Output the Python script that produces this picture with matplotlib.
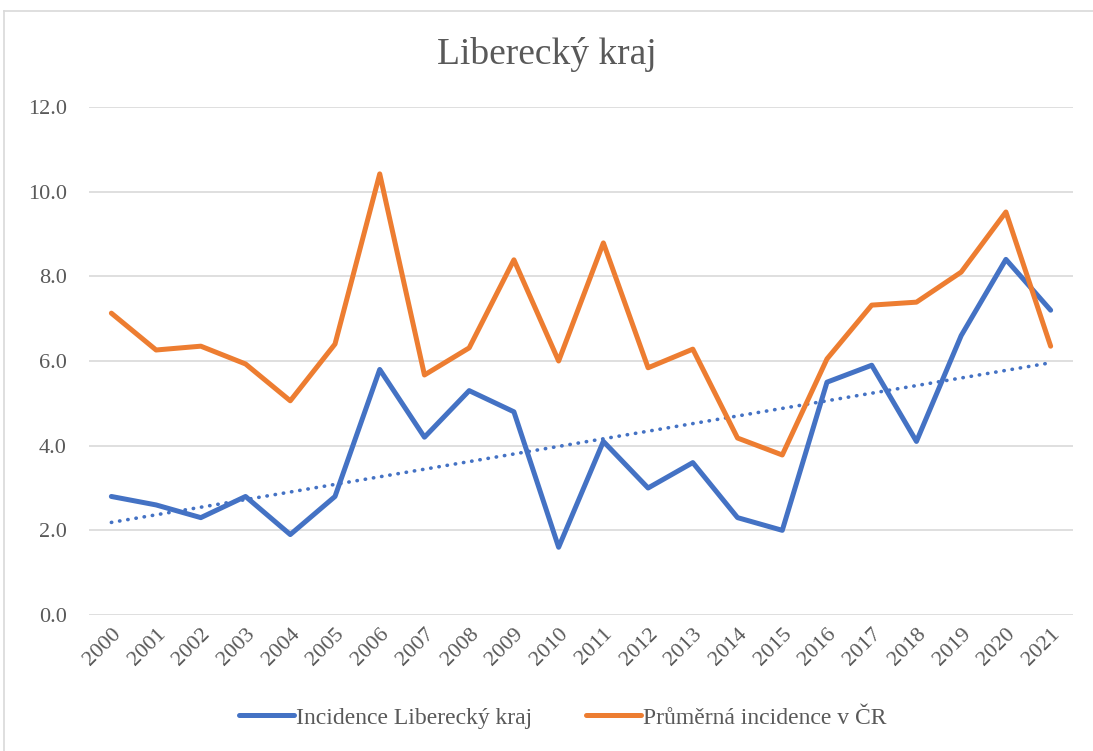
import numpy as np
import matplotlib
matplotlib.use("Agg")
import matplotlib.pyplot as plt
from matplotlib.lines import Line2D

years = [str(y) for y in range(2000, 2022)]
liberec = [2.8, 2.6, 2.3, 2.8, 1.9, 2.8, 5.8, 4.2, 5.3, 4.8, 1.6,
           4.1, 3.0, 3.6, 2.3, 2.0, 5.5, 5.9, 4.1, 6.6, 8.4, 7.2]
cr_avg = [7.13, 6.26, 6.35, 5.93, 5.06, 6.40, 10.42, 5.67, 6.31, 8.39, 6.00,
          8.79, 5.84, 6.28, 4.18, 3.78, 6.05, 7.32, 7.39, 8.10, 9.52, 6.35]
y_ticks = [0, 2, 4, 6, 8, 10, 12]

plt.rcParams['font.family'] = ['Liberation Serif', 'DejaVu Serif']
text_col = '#595959'

fig = plt.figure(figsize=(10.93, 7.51), dpi=100)
ax = fig.add_axes([89 / 1093, 1 - 615 / 751, 984 / 1093, 508 / 751])

x = np.arange(len(years))
ax.plot(x, liberec, color='#4472C4', lw=3.6, solid_joinstyle='round',
        solid_capstyle='round', label='Incidence Liberecký kraj', zorder=3)
ax.plot(x, cr_avg, color='#ED7D31', lw=3.6, solid_joinstyle='round',
        solid_capstyle='round', label='Průměrná incidence v ČR', zorder=3)

# linear trendline of the Liberec series
k, q = np.polyfit(x, liberec, 1)
ax.plot(x, k * x + q, color='#4472C4', lw=2.6, linestyle=(0, (0.1, 2.2)),
        dash_capstyle='round', zorder=2)

ax.set_xlim(-0.5, len(years) - 0.5)
ax.set_ylim(0, 12)
ax.set_yticks(y_ticks)
ax.set_yticklabels([f'{v:.1f}' for v in y_ticks])
ax.set_xticks(x)
ax.set_xticklabels(years, rotation=45, ha='right', rotation_mode='anchor')
ax.tick_params(axis='both', length=0, labelsize=16, colors=text_col)
ax.tick_params(axis='y', pad=16)
ax.tick_params(axis='x', pad=7)
ax.grid(axis='y', color='#D9D9D9', lw=1.2)
ax.set_axisbelow(True)
for s in ax.spines.values():
    s.set_visible(False)

fig.text(0.5, 1 - 55 / 751, 'Liberecký kraj', ha='center', va='center',
         fontsize=27, color=text_col)

fig.legend(loc='center', bbox_to_anchor=(0.515, 1 - 718 / 751), ncol=2,
           frameon=False, fontsize=17, handlelength=2.3, handletextpad=0.1,
           columnspacing=2.3, labelcolor=text_col)

# chart area border (top and left edges visible)
top = 1 - 11 / 751
left = 4 / 1093
fig.lines.append(Line2D([left, 1.0], [top, top], transform=fig.transFigure,
                        color='#D9D9D9', lw=1.2))
fig.lines.append(Line2D([left, left], [0, top], transform=fig.transFigure,
                        color='#D9D9D9', lw=1.2))

fig.savefig('out.png', dpi=100)
